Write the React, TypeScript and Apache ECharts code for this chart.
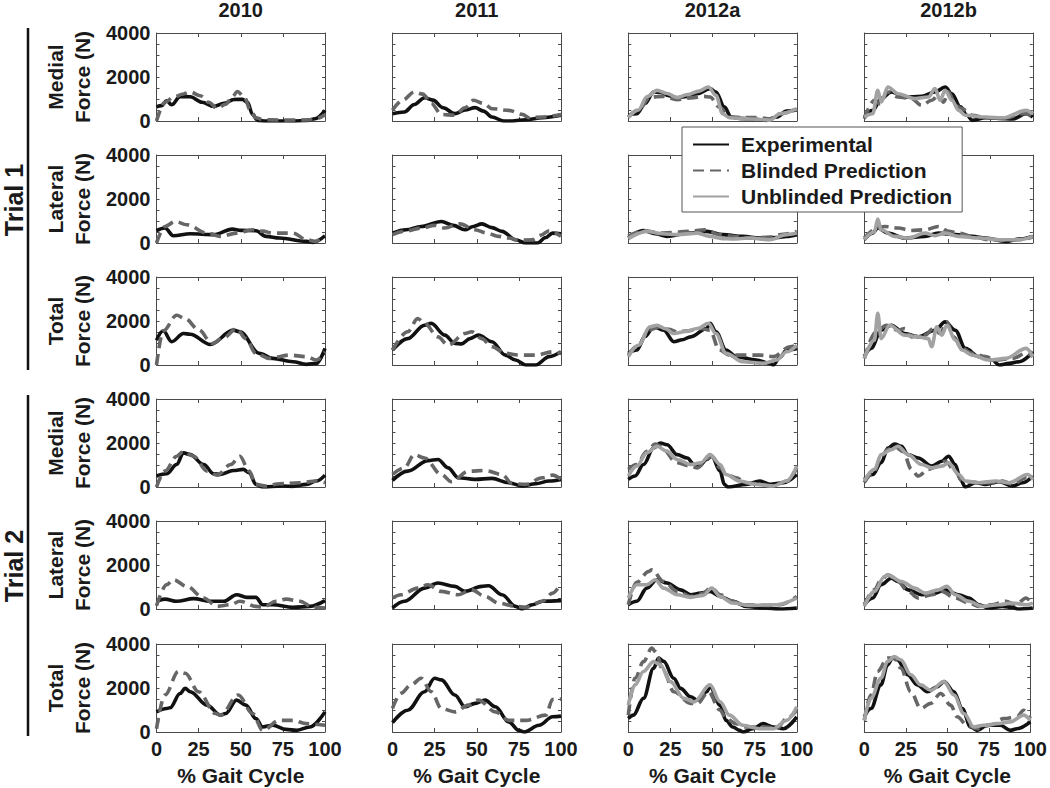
import React, { useEffect, useRef } from "react";
import * as echarts from "echarts";

// ---------- labels ----------
const columnTitles = ["2010", "2011", "2012a", "2012b"];
const measureLabels = ["Medial\nForce (N)", "Lateral\nForce (N)", "Total\nForce (N)"];
const trialLabels = ["Trial 1", "Trial 2"];
const seriesNames = ["Experimental", "Blinded Prediction", "Unblinded Prediction"];
const xAxisTitle = "% Gait Cycle";
const yTickLabels = [0, 2000, 4000];

// ---------- Trial 1 ----------
const t1_2010_medial_exp = [[0,640],[3,700],[6,920],[9,740],[14,1110],[20,1100],[27,850],[34,660],[40,800],[46,980],[51,985],[54,850],[57,300],[60,30],[65,0],[80,0],[90,20],[94,100],[100,480]];
const t1_2010_medial_blind = [[0,0],[5,850],[10,1080],[16,1230],[20,1320],[26,1150],[31,850],[36,580],[41,760],[45,1100],[48,1340],[52,1100],[56,450],[59,150],[63,60],[75,40],[90,50],[95,110],[100,280]];
const t1_2010_lateral_exp = [[0,560],[5,680],[10,330],[20,420],[34,380],[45,630],[50,575],[59,560],[65,300],[73,225],[89,75],[93,30],[100,330]];
const t1_2010_lateral_blind = [[0,0],[5,750],[11,980],[18,830],[30,450],[38,300],[47.5,450],[57,600],[63,540],[69,450],[81,450],[89,150],[94,75],[100,330]];
const t1_2010_total_exp = [[0,1130],[4,1555],[9,1060],[16,1430],[20,1400],[32,935],[45.6,1585],[49.5,1510],[61,530],[69,300],[81,150],[89,30],[95,75],[100,755]];
const t1_2010_total_blind = [[0,0],[4,1550],[12,2260],[17,2110],[25,1600],[33,980],[40,1250],[47.5,1660],[53,1200],[59,530],[67,300],[79,450],[89,380],[95,225],[100,600]];

const t1_2011_medial_exp = [[0,333],[7,410],[13,750],[19,1060],[24,950],[30,600],[37,333],[43,500],[49,606],[54,450],[59,180],[66,0],[71,0],[79,60],[89,150],[100,260]];
const t1_2011_medial_blind = [[0,485],[6,950],[13,1320],[18,1220],[23,800],[29,300],[37,260],[43,600],[48,940],[54,800],[59,560],[69,485],[77,300],[81,150],[89,180],[100,290]];
const t1_2011_lateral_exp = [[0,450],[8,600],[17,750],[29,980],[36,800],[43,600],[48,750],[53,870],[59,700],[65,530],[73,150],[79,0],[86,0],[91,250],[95,450],[100,420]];
const t1_2011_lateral_blind = [[0,380],[8,550],[17,680],[25,800],[31,680],[40,870],[49,600],[56,450],[63,300],[69,225],[75,120],[83,150],[88,350],[93,560],[100,300]];
const t1_2011_total_exp = [[0,680],[9,1200],[19,1810],[23,1890],[31,1360],[37,980],[41,960],[46,1200],[51,1360],[59,1060],[67,450],[73,225],[79,0],[85,0],[93,380],[100,600]];
const t1_2011_total_blind = [[0,680],[9,1510],[15,2110],[19,1890],[27,1280],[33,900],[43,1430],[47,1510],[53,1200],[59,830],[67,530],[75,450],[85,450],[95,600],[100,530]];

const t1_2012a_medial_exp = [[0,260],[5,330],[10,800],[15,1320],[19,1300],[24,1150],[29,1060],[35,1120],[41,1240],[48.5,1470],[52,1320],[57,640],[61,180],[66,120],[72,100],[82,30],[88,180],[94,450],[100,515]];
const t1_2012a_medial_blind = [[0,180],[6,500],[13,1090],[21,1120],[29,970],[37,1050],[45,1120],[48.5,1090],[54,640],[60,180],[70,160],[78,150],[84,100],[90,330],[100,515]];
const t1_2012a_medial_unbl = [[0,150],[6,500],[11,1100],[17,1390],[23,1250],[29,1070],[35,1200],[42,1360],[47.5,1545],[52,1170],[56,330],[60,150],[70,100],[80,60],[84,40],[90,330],[100,560]];
const t1_2012a_lateral_exp = [[0,225],[9,570],[16,420],[23,300],[35,450],[46.5,530],[56,380],[68,300],[78,225],[88,250],[94,300],[100,380]];
const t1_2012a_lateral_blind = [[0,300],[9,570],[19,450],[27,480],[35,530],[46,600],[54,380],[62,300],[74,225],[84,270],[92,400],[100,530]];
const t1_2012a_lateral_unbl = [[0,200],[11,530],[20,420],[29,380],[41,450],[48.5,300],[56,200],[62,180],[72,225],[84,150],[94,380],[100,450]];
const t1_2012a_total_exp = [[0,530],[5,680],[10,1300],[15,1740],[21,1580],[27,1060],[32,1150],[37,1280],[46.5,1660],[48.5,1890],[52,1510],[58,680],[64,380],[76,225],[84,75],[86,0],[90,350],[94,680],[100,755]];
const t1_2012a_total_blind = [[0,450],[6,900],[12,1580],[19,1740],[24,1620],[29,1510],[36,1560],[43,1660],[48.5,1580],[54,680],[60,450],[70,450],[78,450],[86,380],[96,830],[100,900]];
const t1_2012a_total_unbl = [[0,380],[6,900],[13,1740],[17,1810],[22,1650],[27,1430],[34,1520],[41,1660],[47.5,1890],[52,1430],[58,530],[68,150],[80,75],[88,225],[94,600],[100,900]];

const t1_2012b_medial_exp = [[0,180],[5,485],[10,1015],[16,1320],[24,1090],[34,1120],[42,1320],[48,1545],[52,1240],[57,640],[61,260],[64,30],[72,150],[80,120],[88,90],[96,330],[100,180]];
const t1_2012b_medial_blind = [[0,100],[6,940],[9,790],[14,1320],[20,1090],[28,1015],[34,710],[40,940],[44,1170],[47,860],[50,1320],[54,710],[58,560],[64,260],[72,150],[84,135],[94,330],[100,260]];
const t1_2012b_medial_unbl = [[0,180],[5,330],[8,1390],[10,860],[14,1545],[20,1240],[30,1015],[38,1090],[42,1470],[45,940],[48,1390],[52,940],[56,485],[60,260],[72,180],[82,135],[96,485],[100,330]];
const t1_2012b_lateral_exp = [[0,150],[5,450],[8,680],[14,450],[24,225],[36,300],[44,450],[54,380],[64,300],[72,225],[84,75],[92,180],[100,300]];
const t1_2012b_lateral_blind = [[0,225],[8,680],[12,750],[20,680],[28,570],[36,600],[44,750],[50,530],[56,450],[64,300],[74,150],[84,120],[92,150],[100,270]];
const t1_2012b_lateral_unbl = [[0,150],[6,500],[8,1090],[10,600],[18,300],[26,225],[36,450],[42,330],[48,450],[56,300],[68,225],[80,150],[92,150],[100,300]];
const t1_2012b_total_exp = [[0,380],[4,755],[10,1580],[16,1810],[24,1430],[32,1280],[42,1580],[48,1960],[54,1580],[60,755],[68,380],[76,225],[80,0],[86,75],[92,150],[100,600]];
const t1_2012b_total_blind = [[0,300],[7,1510],[13,1810],[20,1580],[24,1660],[28,1280],[36,1360],[41,1660],[45,1430],[49,1960],[53,1280],[58,755],[64,530],[72,380],[78,225],[88,300],[96,530],[100,380]];
const t1_2012b_total_unbl = [[0,300],[6,1130],[8,2350],[10,1200],[15,1810],[24,1360],[32,1280],[38,1200],[40,830],[43,1740],[46,1360],[49,1810],[54,1130],[58,680],[64,450],[74,225],[84,300],[96,755],[100,380]];

// ---------- Trial 2 ----------
const t2_2010_medial_exp = [[0,500],[6,600],[12,1020],[16,1550],[20,1470],[28,1020],[34,600],[38,570],[45.6,750],[51.5,800],[55,650],[59,120],[63,0],[75,45],[81,30],[89,120],[95,270],[100,540]];
const t2_2010_medial_blind = [[0,0],[5,720],[12,1400],[16,1620],[22,1400],[30,720],[36,540],[44,1020],[49.5,1400],[55,720],[59,120],[65,45],[73,150],[85,195],[95,270],[100,195]];
const t2_2010_lateral_exp = [[0,350],[5,450],[12,350],[22,470],[32,350],[40,350],[47.5,650],[53.6,530],[59,530],[63,195],[69,195],[81,75],[91,120],[100,380]];
const t2_2010_lateral_blind = [[0,150],[6,1100],[10,1330],[18,1030],[28,500],[36,120],[44,195],[49.5,350],[59,120],[63,75],[71,350],[77,450],[85,350],[93,75],[100,45]];
const t2_2010_total_exp = [[0,915],[6,1070],[8,1100],[14,1750],[17,1985],[20,1830],[30,1220],[38,765],[41,840],[47.5,1450],[53,1220],[59,610],[63,230],[69,305],[77,120],[83,75],[91,230],[100,915]];
const t2_2010_total_blind = [[0,150],[5,1680],[13,2750],[17,2670],[25,1830],[35,840],[38,765],[48.5,1680],[57,840],[63,75],[73,530],[81,530],[89,380],[100,305]];

const t2_2011_medial_exp = [[0,300],[9,720],[21,1200],[27,1250],[33,870],[39,420],[49,345],[59,390],[69,195],[77,45],[85,150],[93,270],[100,345]];
const t2_2011_medial_blind = [[0,570],[7,870],[13,1470],[19,1320],[29,570],[35,240],[45,720],[55,750],[65,570],[71,150],[79,120],[89,420],[95,540],[100,345]];
const t2_2011_lateral_exp = [[0,45],[7,350],[19,950],[27,1180],[37,1030],[43,800],[53,1030],[57,1060],[65,650],[73,120],[77,0],[83,195],[89,350],[100,380]];
const t2_2011_lateral_blind = [[0,500],[5,650],[15,950],[21,1100],[29,800],[39,650],[47,870],[55,570],[63,270],[73,120],[79,75],[89,350],[95,720],[100,1180]];
const t2_2011_total_exp = [[0,430],[9,990],[19,1830],[25,2440],[29,2370],[37,1680],[43,1145],[49,1300],[55,1450],[61,1145],[69,460],[75,75],[78,0],[87,305],[95,690],[100,720]];
const t2_2011_total_blind = [[0,1070],[5,1760],[11,2140],[17,2440],[23,1830],[29,1070],[37,915],[45,1220],[51,1450],[61,915],[69,530],[79,530],[91,765],[95,1480],[100,1500]];

const t2_2012a_medial_exp = [[0,345],[4,500],[9,1020],[15,1770],[19,2000],[23,1920],[29,1470],[35,1320],[39,1020],[42,950],[46.5,1250],[49.5,1400],[54.5,720],[57,120],[59,0],[70,120],[78,270],[84,120],[92,195],[100,570]];
const t2_2012a_medial_blind = [[0,800],[5,1020],[11,1620],[16,1950],[19,1850],[29,1100],[37,950],[41,870],[46.5,1250],[49.5,1400],[54.5,870],[58,570],[64,420],[70,195],[78,120],[86,45],[94,270],[100,870]];
const t2_2012a_medial_unbl = [[0,500],[5,950],[11,1550],[17,1850],[23,1620],[29,1250],[37,1020],[43,1100],[48.5,1470],[54.5,1020],[58,570],[66,270],[76,120],[86,45],[94,270],[100,950]];
const t2_2012a_lateral_exp = [[0,195],[5,350],[11,950],[17,1330],[23,1180],[31,870],[37,650],[43,720],[48.5,800],[54.5,570],[62,350],[70,120],[80,45],[90,0],[100,45]];
const t2_2012a_lateral_blind = [[0,195],[5,1210],[12,1700],[14,1780],[21,1250],[29,800],[37,570],[43,680],[49.5,950],[54.5,650],[62,350],[68,195],[82,165],[90,195],[100,570]];
const t2_2012a_lateral_unbl = [[0,500],[5,1100],[11,1100],[16,1330],[21,950],[29,650],[37,530],[44.5,620],[49.5,950],[54.5,570],[62,270],[72,165],[88,195],[100,500]];
const t2_2012a_total_exp = [[0,610],[3,765],[9,1530],[15,2900],[18,3360],[21,3210],[27,2440],[31,1985],[37,1600],[41,1450],[46.5,1830],[48.5,2060],[54.5,1220],[58,530],[62,230],[66,75],[68,0],[74,150],[80,380],[86,230],[92,150],[100,690]];
const t2_2012a_total_blind = [[0,765],[4,2440],[9,3200],[14,3820],[16,3660],[21,2750],[27,1830],[37,1300],[41,1300],[47.5,1830],[54.5,990],[58,610],[64,380],[70,230],[82,230],[88,150],[94,610],[100,990]];
const t2_2012a_total_unbl = [[0,1220],[4,2140],[9,2750],[15,3200],[19,3050],[25,2290],[33,1530],[39,1370],[48.5,2140],[54.5,1370],[60,765],[68,305],[78,150],[86,150],[94,530],[100,1145]];

const t2_2012b_medial_exp = [[0,345],[5,570],[10,1100],[14,1770],[18,1950],[22,1850],[26,1470],[32,1320],[40,950],[46,1170],[50,1400],[54,1020],[57,345],[60,0],[66,195],[72,120],[80,240],[88,45],[94,195],[100,500]];
const t2_2012b_medial_blind = [[0,195],[6,720],[10,1400],[14,1700],[18,1850],[23,1620],[28,800],[32,500],[38,800],[44,950],[48,1170],[54,720],[58,270],[68,195],[76,195],[82,270],[88,120],[96,420],[100,345]];
const t2_2012b_medial_unbl = [[0,270],[6,800],[10,1470],[16,1700],[20,1850],[26,1470],[34,1020],[40,870],[46,950],[50,1100],[56,570],[60,270],[68,195],[78,270],[86,195],[97,570],[100,345]];
const t2_2012b_lateral_exp = [[0,195],[5,500],[10,1100],[16,1400],[20,1250],[26,870],[34,650],[42,720],[48,870],[56,650],[62,500],[68,195],[74,45],[82,120],[88,75],[91,0],[100,45]];
const t2_2012b_lateral_blind = [[0,195],[6,870],[10,1330],[14,1550],[20,1250],[26,800],[32,500],[40,650],[46,800],[54,500],[62,270],[68,120],[76,195],[84,350],[90,195],[96,500],[100,195]];
const t2_2012b_lateral_unbl = [[0,120],[6,800],[12,1480],[14,1550],[22,1250],[30,950],[36,720],[44,870],[49,1030],[54,650],[62,350],[70,120],[80,195],[88,270],[96,195],[100,270]];
const t2_2012b_total_exp = [[0,690],[4,1070],[10,2140],[14,3050],[17,3360],[20,3280],[26,2600],[32,2140],[38,1830],[44,2060],[48,2290],[54,1830],[59,1070],[64,230],[68,75],[74,305],[82,305],[88,75],[92,150],[100,460]];
const t2_2012b_total_blind = [[0,530],[4,1680],[8,2750],[14,3360],[18,3360],[22,2900],[28,1830],[34,1070],[40,1300],[46,1750],[52,1220],[56,690],[62,305],[68,150],[76,305],[84,610],[92,690],[96,990],[100,610]];
const t2_2012b_total_unbl = [[0,530],[4,1530],[10,2440],[14,3200],[18,3430],[22,3280],[28,2600],[34,2140],[40,1900],[48,2290],[54,1680],[60,840],[66,230],[72,305],[80,380],[88,460],[96,765],[100,530]];

// panel lookup: [trial][measure][column] -> [experimental, blinded, unblinded]
const panels = [
  [
    [[t1_2010_medial_exp, t1_2010_medial_blind, null], [t1_2011_medial_exp, t1_2011_medial_blind, null], [t1_2012a_medial_exp, t1_2012a_medial_blind, t1_2012a_medial_unbl], [t1_2012b_medial_exp, t1_2012b_medial_blind, t1_2012b_medial_unbl]],
    [[t1_2010_lateral_exp, t1_2010_lateral_blind, null], [t1_2011_lateral_exp, t1_2011_lateral_blind, null], [t1_2012a_lateral_exp, t1_2012a_lateral_blind, t1_2012a_lateral_unbl], [t1_2012b_lateral_exp, t1_2012b_lateral_blind, t1_2012b_lateral_unbl]],
    [[t1_2010_total_exp, t1_2010_total_blind, null], [t1_2011_total_exp, t1_2011_total_blind, null], [t1_2012a_total_exp, t1_2012a_total_blind, t1_2012a_total_unbl], [t1_2012b_total_exp, t1_2012b_total_blind, t1_2012b_total_unbl]],
  ],
  [
    [[t2_2010_medial_exp, t2_2010_medial_blind, null], [t2_2011_medial_exp, t2_2011_medial_blind, null], [t2_2012a_medial_exp, t2_2012a_medial_blind, t2_2012a_medial_unbl], [t2_2012b_medial_exp, t2_2012b_medial_blind, t2_2012b_medial_unbl]],
    [[t2_2010_lateral_exp, t2_2010_lateral_blind, null], [t2_2011_lateral_exp, t2_2011_lateral_blind, null], [t2_2012a_lateral_exp, t2_2012a_lateral_blind, t2_2012a_lateral_unbl], [t2_2012b_lateral_exp, t2_2012b_lateral_blind, t2_2012b_lateral_unbl]],
    [[t2_2010_total_exp, t2_2010_total_blind, null], [t2_2011_total_exp, t2_2011_total_blind, null], [t2_2012a_total_exp, t2_2012a_total_blind, t2_2012a_total_unbl], [t2_2012b_total_exp, t2_2012b_total_blind, t2_2012b_total_unbl]],
  ],
];

// ---------- layout / style ----------
const FONT = "'Liberation Sans', Arial, Helvetica, sans-serif";
const TEXT = "#1a1a1a";
const FRAME = "#4a4a4a";
const COL_LEFT = [156.5, 392.5, 628.3, 864.3];
const COL_W = 168.5;
const ROW_TOP = [33, 155, 277, 399, 521, 644];
const ROW_H = 88;

const lineStyles = [
  { color: "#111111", width: 3.6, type: "solid" },
  { color: "#666666", width: 3.6, type: [11, 6] },
  { color: "#a2a2a2", width: 3.6, type: "solid" },
];

function buildOption() {
  const grid: any[] = [];
  const xAxis: any[] = [];
  const yAxis: any[] = [];
  const series: any[] = [];
  const frameLine = { show: true, onZero: false, lineStyle: { color: FRAME, width: 1 } };
  let g = 0;
  for (let t = 0; t < 2; t++) {
    for (let m = 0; m < 3; m++) {
      for (let c = 0; c < 4; c++) {
        const row = t * 3 + m;
        const isBottom = row === 5;
        const isLeft = c === 0;
        grid.push({ left: COL_LEFT[c], top: ROW_TOP[row], width: COL_W, height: ROW_H, containLabel: false, show: false });
        const xBase = {
          gridIndex: g, type: "value", min: 0, max: 100, interval: 25,
          axisLine: frameLine, splitLine: { show: false },
          axisTick: { show: true, inside: true, length: 4, lineStyle: { color: FRAME, width: 1 } },
        };
        xAxis.push({
          ...xBase, position: "bottom",
          axisLabel: { show: isBottom, margin: 7, fontSize: 20, fontWeight: "bold", color: TEXT, fontFamily: FONT },
          name: isBottom ? xAxisTitle : "", nameLocation: "middle", nameGap: 33,
          nameTextStyle: { fontSize: 21, fontWeight: "bold", color: TEXT, fontFamily: FONT },
        });
        xAxis.push({ ...xBase, position: "top", axisLabel: { show: false } });
        const yBase = {
          gridIndex: g, type: "value", min: 0, max: 4000, interval: 500,
          axisLine: frameLine, splitLine: { show: false },
          axisTick: { show: true, inside: true, length: 3, lineStyle: { color: FRAME, width: 1 } },
        };
        yAxis.push({
          ...yBase, position: "left",
          axisLabel: {
            show: isLeft, margin: 6, fontSize: 20, fontWeight: "bold", color: TEXT, fontFamily: FONT,
            formatter: (v: number) => (yTickLabels.indexOf(v) >= 0 ? String(v) : ""),
          },
          name: isLeft ? measureLabels[m] : "", nameLocation: "middle", nameRotate: 90, nameGap: 61,
          nameTextStyle: { fontSize: 21, fontWeight: "bold", color: TEXT, fontFamily: FONT, lineHeight: 27, align: "center" },
        });
        yAxis.push({ ...yBase, position: "right", axisLabel: { show: false } });
        const trio = panels[t][m][c];
        trio.forEach((d: any, k: number) => {
          if (!d) return;
          series.push({
            type: "line", name: seriesNames[k], data: d,
            xAxisIndex: 2 * g, yAxisIndex: 2 * g,
            symbol: "none", showSymbol: false, smooth: 0.35, smoothMonotone: "x",
            lineStyle: lineStyles[k], itemStyle: { color: lineStyles[k].color },
            z: 2 + k, clip: true, silent: true,
          });
        });
        g++;
      }
    }
  }

  return {
    animation: false,
    backgroundColor: "#ffffff",
    title: columnTitles.map((txt, c) => ({
      text: txt, left: COL_LEFT[c] + COL_W / 2, top: 0, textAlign: "center", padding: 0,
      textStyle: { fontSize: 20, fontWeight: "bold", color: TEXT, fontFamily: FONT },
    })),
    legend: {
      orient: "vertical", left: 682, top: 127, data: seriesNames, selectedMode: false,
      itemWidth: 36, itemHeight: 5, itemGap: 5, padding: [7, 10, 5, 10],
      itemStyle: { opacity: 0, borderWidth: 0 },
      backgroundColor: "#ffffff", borderColor: "#555555", borderWidth: 1, z: 20,
      textStyle: { fontSize: 21, fontWeight: "bold", color: TEXT, fontFamily: FONT, padding: [0, 0, 0, 7], lineHeight: 21 },
    },
    grid, xAxis, yAxis, series,
    graphic: [
      { type: "line", shape: { x1: 28, y1: 28, x2: 28, y2: 370 }, style: { stroke: "#111", lineWidth: 2.5 } },
      { type: "line", shape: { x1: 28, y1: 395, x2: 28, y2: 736 }, style: { stroke: "#111", lineWidth: 2.5 } },
      { type: "text", x: 14, y: 200, rotation: Math.PI / 2, style: { text: trialLabels[0], fontSize: 25, fontWeight: "bold", fill: TEXT, fontFamily: FONT, align: "center", verticalAlign: "middle" } },
      { type: "text", x: 14, y: 566, rotation: Math.PI / 2, style: { text: trialLabels[1], fontSize: 25, fontWeight: "bold", fill: TEXT, fontFamily: FONT, align: "center", verticalAlign: "middle" } },
    ],
  };
}

export default function App() {
  const ref = useRef<HTMLDivElement>(null);
  useEffect(() => {
    if (!ref.current) return;
    const chart = echarts.init(ref.current, undefined, { renderer: "svg" });
    chart.setOption(buildOption() as any);
    return () => chart.dispose();
  }, []);
  return <div ref={ref} style={{ position: "absolute", left: 0, top: 0, width: 1050, height: 788 }} />;
}
